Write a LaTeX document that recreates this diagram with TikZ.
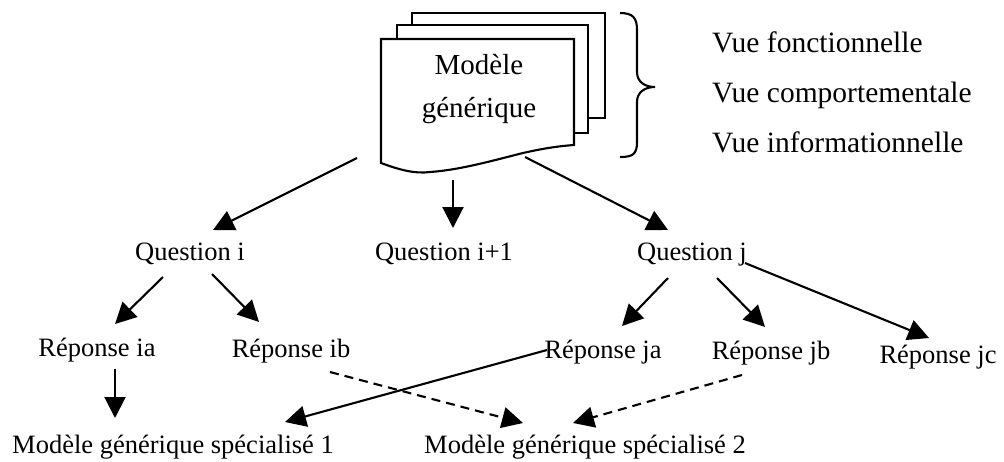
\documentclass[tikz,border=0pt]{standalone}
\usepackage{fontspec}
\setmainfont{Liberation Serif}
\usetikzlibrary{arrows.meta}
\begin{document}
\begin{tikzpicture}[x=1pt,y=-1pt,
  txt/.style={inner sep=0pt, anchor=base, font=\fontsize{26.5}{30}\selectfont},
  bigtxt/.style={inner sep=0pt, anchor=base, font=\fontsize{29}{33}\selectfont},
  viewtxt/.style={inner sep=0pt, anchor=base west, font=\fontsize{29.5}{33}\selectfont},
  ln/.style={line width=2.1pt},
  arr/.style={ln, -{Triangle[length=21pt,width=21pt]}},
  darr/.style={arr, dash pattern=on 9pt off 6pt}]
\useasboundingbox (0,0) rectangle (1004,461);

% stacked documents
\draw[ln, fill=white] (412,13) rectangle (605,118);
\draw[ln, fill=white] (397,25) rectangle (588,133);
\draw[ln, fill=white] (381,163) -- (381,39) -- (574,39) -- (574,145)
  .. controls (560,146) and (545,148) .. (523,153)
  .. controls (495,160) and (460,170) .. (430,172)
  .. controls (415,174) and (400,170) .. (381,163) -- cycle;
\node[minimum width=193pt, minimum height=126pt, inner sep=0pt] (doc) at (477.5,102) {};
\node[bigtxt] (m1) at (479,74) {Modèle};
\node[bigtxt] (m2) at (479,117) {générique};

% brace
\draw[ln] (620,13) .. controls (633,13) and (637,18) .. (637,30) -- (637,72)
  .. controls (637,82) and (645,87) .. (655,87)
  .. controls (645,87) and (637,92) .. (637,102) -- (637,142)
  .. controls (637,154) and (633,157) .. (620,157);

% views
\node[viewtxt] (v1) at (712,52) {Vue fonctionnelle};
\node[viewtxt] (v2) at (712,102) {Vue comportementale};
\node[viewtxt] (v3) at (712,152) {Vue informationnelle};

% questions
\node[txt] (qi) at (190,260) {Question i};
\node[txt] (qi1) at (444,260) {Question i+1};
\node[txt] (qj) at (692,260) {Question j};

% answers
\node[txt] (ria) at (97,356) {Réponse ia};
\node[txt] (rib) at (291,357) {Réponse ib};
\node[txt] (rja) at (603,358) {Réponse ja};
\node[txt] (rjb) at (771,359) {Réponse jb};
\node[txt] (rjc) at (938,363) {Réponse jc};

% specialised models
\node[txt] (s1) at (173,453) {Modèle générique spécialisé 1};
\node[txt] (s2) at (585,453) {Modèle générique spécialisé 2};

% connectors from document
\draw[arr] ([xshift=-120.5pt,yshift=-56pt]doc.center) -- ([xshift=23pt,yshift=30pt]qi.base);
\draw[arr] ([xshift=-24.5pt,yshift=-78pt]doc.center) -- ([xshift=9pt,yshift=32pt]qi1.base);
\draw[arr] ([xshift=47.5pt,yshift=-55pt]doc.center) -- ([xshift=-24pt,yshift=30pt]qj.base);

% from question i
\draw[arr] ([xshift=-27pt,yshift=-17pt]qi.base) -- ([xshift=18pt,yshift=32pt]ria.base);
\draw[arr] ([xshift=22pt,yshift=-14pt]qi.base) -- ([xshift=-32pt,yshift=35pt]rib.base);

% from question j
\draw[arr] ([xshift=-24pt,yshift=-18pt]qj.base) -- ([xshift=19pt,yshift=32pt]rja.base);
\draw[arr] ([xshift=25pt,yshift=-18pt]qj.base) -- ([xshift=-6pt,yshift=32pt]rjb.base);
\draw[arr] ([xshift=53pt,yshift=-3pt]qj.base) -- ([xshift=-9pt,yshift=25pt]rjc.base);

% to specialised models
\draw[arr] ([xshift=18pt,yshift=-13pt]ria.base) -- ([xshift=-58pt,yshift=35pt]s1.base);
\draw[arr] ([xshift=-56pt,yshift=8pt]rja.base) -- ([xshift=112pt,yshift=31pt]s1.base);
\draw[darr] ([xshift=39pt,yshift=-15pt]rib.base) -- ([xshift=-62pt,yshift=30pt]s2.base);
\draw[darr] ([xshift=-29pt,yshift=-16pt]rjb.base) -- ([xshift=-12pt,yshift=30pt]s2.base);
\end{tikzpicture}
\end{document}
